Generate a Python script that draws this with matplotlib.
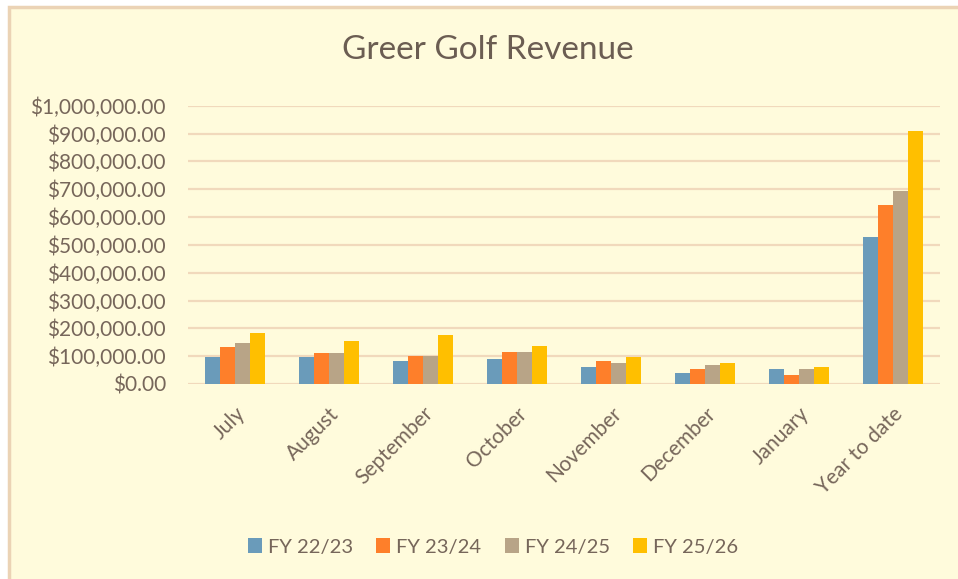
import numpy as np
import matplotlib
matplotlib.use('Agg')
import matplotlib.pyplot as plt
import matplotlib.patches as patches
from matplotlib.ticker import FuncFormatter

# data
months = ['July', 'August', 'September', 'October', 'November',
          'December', 'January', 'Year to date']
series = ['FY 22/23', 'FY 23/24', 'FY 24/25', 'FY 25/26']
fy2223 = [96000, 96000, 81000, 89000, 60000, 38000, 53000, 528000]
fy2324 = [132000, 110000, 102000, 116000, 81000, 53000, 31000, 642000]
fy2425 = [146000, 110000, 102000, 116000, 74000, 67000, 53000, 693000]
fy2526 = [182000, 153000, 175000, 138000, 96000, 74000, 60000, 908000]

colors = ['#6A9BBA', '#FE7F2A', '#B8A487', '#FFBF00']
bg = '#FFFBDC'
txt = '#76665A'
grid_c = '#F1D9BC'

plt.rcParams['font.family'] = ['Lato', 'DejaVu Sans']

fig = plt.figure(figsize=(9.58, 5.79), dpi=100)
fig.patch.set_facecolor('white')

# chart area frame (only top/left edges visible)
frame = patches.Rectangle((9 / 958, -0.05), 1.1, 1.05 - 7 / 579, transform=fig.transFigure,
                          fc=bg, ec='#EBD3B5', lw=2.5, zorder=-5)
fig.patches.append(frame)

ax = fig.add_axes([188 / 958, 1 - 384 / 579, 752 / 958, (384 - 105.7) / 579])
ax.set_facecolor('none')

x = np.arange(len(months))
w = 0.16
for i, vals in enumerate([fy2223, fy2324, fy2425, fy2526]):
    ax.bar(x + (i - 1.5) * w, vals, width=w, color=colors[i], label=series[i], zorder=3)

ax.set_xlim(-0.5, len(months) - 0.5)
ax.set_ylim(0, 1000000)
ax.set_yticks(np.arange(0, 1000001, 100000))
ax.yaxis.set_major_formatter(FuncFormatter(lambda v, p: '${:,.2f}'.format(v)))
ax.grid(axis='y', color=grid_c, lw=1.6, zorder=0)
for s in ax.spines.values():
    s.set_visible(False)
ax.tick_params(axis='both', length=0, colors=txt, labelsize=15)
ax.tick_params(axis='y', pad=16)

ax.set_xticks(x)
ax.set_xticklabels(months, rotation=45, ha='right', rotation_mode='anchor')
ax.tick_params(axis='x', pad=14)

fig.text(488 / 958, 1 - 50 / 579, 'Greer Golf Revenue', ha='center', va='center',
         fontsize=24, color='#6B5D52')

fig.legend(loc='center', bbox_to_anchor=(493 / 958, 1 - 547 / 579), ncol=4,
           frameon=False, fontsize=14.5, labelcolor=txt, handlelength=0.7,
           handleheight=0.7, handletextpad=0.3, columnspacing=1.15)

plt.savefig('out.png', dpi=100, facecolor=fig.get_facecolor())
